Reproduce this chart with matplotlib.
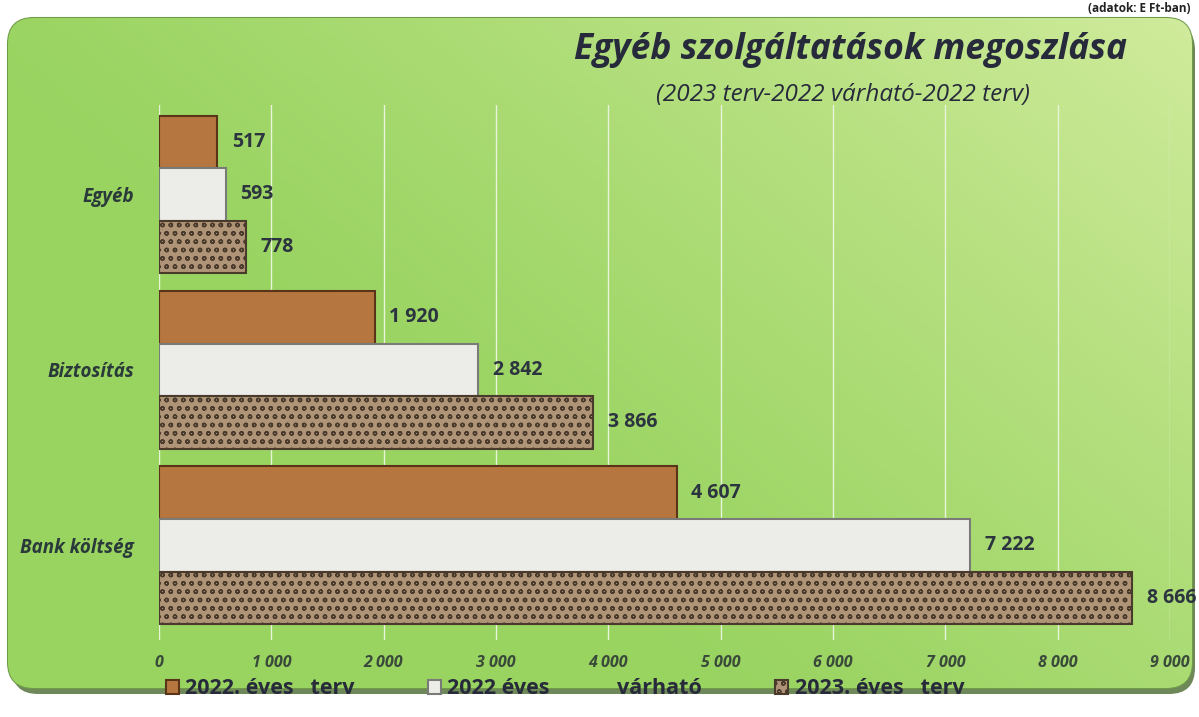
import numpy as np
import matplotlib.pyplot as plt
from matplotlib.patches import FancyBboxPatch

categories = ["Bank költség", "Biztosítás", "Egyéb"]
series_names = ["2022. éves   terv", "2022 éves            várható", "2023. éves   terv"]
terv_2022 = [4607, 1920, 517]
varhato_2022 = [7222, 2842, 593]
terv_2023 = [8666, 3866, 778]
ticks = [0, 1000, 2000, 3000, 4000, 5000, 6000, 7000, 8000, 9000]

title = "Egyéb szolgáltatások megoszlása"
subtitle = "(2023 terv-2022 várható-2022 terv)"
unit_note = "(adatok: E Ft-ban)"

colors = ["#b5773f", "#ecece8", "#b09478"]
edges = ["#5a3418", "#7a7a78", "#4a3a2c"]
hatches = [None, None, "oo"]
font = ["Open Sans", "DejaVu Sans"]


def fmt(v):
    return f"{v:,}".replace(",", " ")


fig = plt.figure(figsize=(11.99, 7.17), dpi=100)
fig.patch.set_facecolor("white")

# background panel with a soft gradient
bg = fig.add_axes([0, 0, 1, 1], zorder=0)
bg.set_xlim(0, 1199)
bg.set_ylim(717, 0)
bg.axis("off")
gx = np.linspace(0, 1, 300)
gy = np.linspace(0, 1, 200)
X, Y = np.meshgrid(gx, gy)
w = np.clip(0.75 * X + 0.5 * (1 - Y) - 0.45, 0, 1) ** 1.2
base = np.array([0.60, 0.83, 0.38])
light = np.array([0.88, 0.95, 0.68])
img = base[None, None, :] * (1 - w[..., None]) + light[None, None, :] * w[..., None]
shadow = FancyBboxPatch((12, 24), 1183, 670, boxstyle="round,pad=0,rounding_size=26",
                        facecolor="#4a6a30", edgecolor="none", alpha=0.8)
bg.add_patch(shadow)
panel = FancyBboxPatch((8, 18), 1184, 670, boxstyle="round,pad=0,rounding_size=26",
                       facecolor="none", edgecolor="#6f9a48", linewidth=1.5)
bg.add_patch(panel)
im = bg.imshow(img, extent=(8, 1192, 688, 18), aspect="auto", zorder=1)
im.set_clip_path(panel)

bg.text(1190, 8, unit_note, ha="right", va="center", fontsize=8.5,
        fontweight="bold", color="#222222", family=font)

ax = fig.add_axes([159 / 1199, 1 - 640 / 717, 1011 / 1199, 535 / 717], zorder=2)
ax.patch.set_alpha(0)

y = np.arange(len(categories))
h = 0.3
values = [terv_2022, varhato_2022, terv_2023]
offsets = [h, 0, -h]
for vals, off, c, ec, ht, name in zip(values, offsets, colors, edges, hatches, series_names):
    bars = ax.barh(y + off, vals, height=h, color=c, edgecolor=ec, linewidth=1.5,
                   hatch=ht, label=name, zorder=3)
    for b, v in zip(bars, vals):
        ax.text(b.get_width() + 130, b.get_y() + h / 2, fmt(v), va="center", ha="left",
                fontsize=14, fontweight="bold", color="#2c3440", family=font, zorder=4)

ax.set_xlim(0, 9000)
ax.set_ylim(-0.54, 2.51)
ax.set_xticks(ticks)
ax.set_xticklabels([fmt(t) for t in ticks], fontsize=11.5, fontstyle="italic",
                   fontweight="bold", color="#3a4a3a", family=font)
ax.set_yticks(y)
ax.set_yticklabels(categories, fontsize=13.5, fontstyle="italic", fontweight="bold",
                   color="#2a3a3a", family=font)
ax.tick_params(axis="both", length=0)
ax.tick_params(axis="x", pad=11)
ax.tick_params(axis="y", pad=18)
ax.grid(axis="x", color="#e8f4d8", linewidth=1, zorder=1)
for s in ax.spines.values():
    s.set_visible(False)

fig.text(851 / 1199, 1 - 50 / 717, title, ha="center", va="center", fontsize=25.5,
         fontweight="bold", fontstyle="italic", color="#262a3a", family=font, zorder=5)
fig.text(843 / 1199, 1 - 95 / 717, subtitle, ha="center", va="center", fontsize=17.5,
         fontstyle="italic", color="#262a3a", family=font, zorder=5)

leg = fig.legend(loc="center", bbox_to_anchor=(565 / 1199, 1 - 689 / 717), ncol=3,
                 frameon=False, handlelength=0.6, handleheight=0.6, columnspacing=3.4,
                 handletextpad=0.3, prop={"family": font, "weight": "bold", "size": 15.5})
for t in leg.get_texts():
    t.set_color("#262a3a")

fig.savefig("out.png", dpi=100)
